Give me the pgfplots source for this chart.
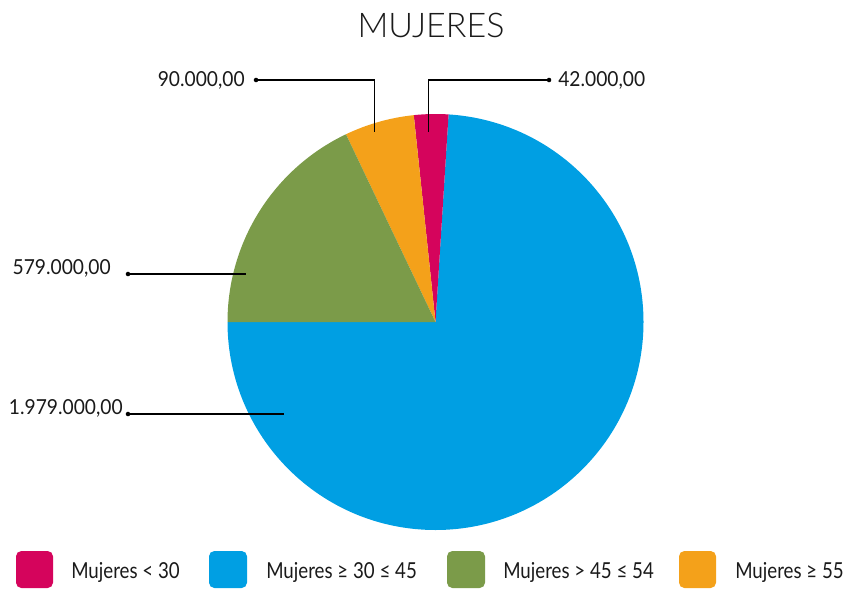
\documentclass[border=0pt]{standalone}
\usepackage{pgfplots}
\pgfplotsset{compat=1.18}
\usepackage{fontspec}
\setmainfont{Lato}
\newfontfamily\titlefont{Lato Light}
\newfontfamily\labfont{Lato}[FakeStretch=0.85]
\newfontfamily\numfont{Lato}[FakeStretch=0.93]
\definecolor{cred}{HTML}{D5045C}
\definecolor{cblue}{HTML}{009FE3}
\definecolor{cgreen}{HTML}{7B9B49}
\definecolor{corange}{HTML}{F4A11A}
\definecolor{ink}{HTML}{1A1A1A}

\begin{document}
\begin{tikzpicture}
% pixel frame: 848 x 592, 1px = 0.75pt, y grows downwards
\begin{axis}[
  scale only axis,width=636pt,height=444pt,
  xmin=0,xmax=848,ymin=0,ymax=592,y dir=reverse,
  hide axis,clip=false]
\addplot[draw=none] coordinates {(0,0) (848,592)};

% slices (angles as drawn in the reference)
\fill[cblue]   (axis cs:435.5,322) -- ++(180:156pt)   arc[start angle=180,  end angle=446.4, radius=156pt] -- cycle;
\fill[cred]    (axis cs:435.5,322) -- ++(86.4:156pt)  arc[start angle=86.4, end angle=96,    radius=156pt] -- cycle;
\fill[corange] (axis cs:435.5,322) -- ++(96:156pt)    arc[start angle=96,   end angle=115.5, radius=156pt] -- cycle;
\fill[cgreen]  (axis cs:435.5,322) -- ++(115.5:156pt) arc[start angle=115.5,end angle=180,   radius=156pt] -- cycle;

\node[font=\titlefont\fontsize{25.5}{25.5}\selectfont,text=ink] at (axis cs:431,25) {MUJERES};

% leaders
\draw[black,line width=0.8pt] (axis cs:256,80) -- (axis cs:374.5,80) -- (axis cs:374.5,132);
\draw[black,line width=0.8pt] (axis cs:549,80) -- (axis cs:428.5,80) -- (axis cs:428.5,132);
\draw[black,line width=0.8pt] (axis cs:128,274) -- (axis cs:246,274);
\draw[black,line width=0.8pt] (axis cs:128,414) -- (axis cs:284,414);
\fill (axis cs:256,80) circle[radius=1.7pt];
\fill (axis cs:549,80) circle[radius=1.7pt];
\fill (axis cs:128,274) circle[radius=1.7pt];
\fill (axis cs:128,414) circle[radius=1.7pt];

\begin{scope}[every node/.style={font=\numfont\fontsize{15.5}{15.5}\selectfont,text=ink,inner sep=0pt}]
\node[anchor=east] at (axis cs:245,80) {90.000,00};
\node[anchor=west] at (axis cs:558,80) {42.000,00};
\node[anchor=east] at (axis cs:111,268) {579.000,00};
\node[anchor=east] at (axis cs:123,408) {1.979.000,00};
\end{scope}

% legend
\fill[cred,rounded corners=4pt]    (axis cs:16,551)  rectangle (axis cs:53,588);
\fill[cblue,rounded corners=4pt]   (axis cs:209,551) rectangle (axis cs:247,588);
\fill[cgreen,rounded corners=4pt]  (axis cs:447,551) rectangle (axis cs:485,588);
\fill[corange,rounded corners=4pt] (axis cs:679,551) rectangle (axis cs:716,588);
\begin{scope}[every node/.style={font=\labfont\fontsize{16.5}{16.5}\selectfont,text=ink,inner sep=0pt,anchor=west}]
\node at (axis cs:71,572)  {Mujeres < 30};
\node at (axis cs:266,572) {Mujeres ≥ 30 ≤ 45};
\node at (axis cs:503,572) {Mujeres > 45 ≤ 54};
\node at (axis cs:735,572) {Mujeres ≥ 55};
\end{scope}
\end{axis}
\end{tikzpicture}
\end{document}
